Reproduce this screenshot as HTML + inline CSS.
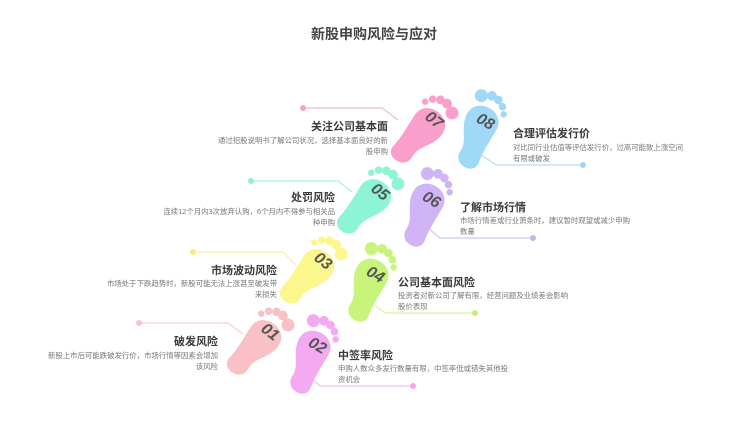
<!DOCTYPE html>
<html><head><meta charset="utf-8"><style>
html,body{margin:0;padding:0;background:#fff;}
svg{display:block;font-family:"Liberation Sans","Noto Sans CJK SC",sans-serif;}
.t{font-size:11px;font-weight:bold;fill:#3a3a3a;}
.d{font-size:7.4px;fill:#777;}
.n{font-size:16px;font-weight:bold;font-style:italic;fill:#555;}
</style></head><body>
<svg width="748" height="433" viewBox="0 0 748 433">
<defs>
<g id="fr">
<path d="M-15,-8 C-17,-28 17,-30 16,-8 C15,6 5,12 7,24 C9,38 -14,40 -13,26 C-12,14 -14,4 -15,-8 Z"/>
<circle cx="11" cy="-31" r="6"/>
<circle cx="2" cy="-35" r="4.5"/>
<circle cx="-5" cy="-34" r="4"/>
<circle cx="-11" cy="-30" r="3.5"/>
<circle cx="-15" cy="-24" r="3"/>
</g>
<g id="fl">
<path d="M15,-8 C17,-28 -17,-30 -16,-8 C-15,6 -5,12 -7,24 C-9,38 14,40 13,26 C12,14 14,4 15,-8 Z"/>
<circle cx="-11" cy="-31" r="6"/>
<circle cx="-2" cy="-35" r="4.5"/>
<circle cx="5" cy="-34" r="4"/>
<circle cx="11" cy="-30" r="3.5"/>
<circle cx="15" cy="-24" r="3"/>
</g>
</defs>
<text x="374" y="39" text-anchor="middle" style="font-size:14px;font-weight:bold;fill:#444">新股申购风险与应对</text>

<g fill="none" stroke-width="1.2">
<path d="M303,108 H382 L398,120" stroke="#f7b8d6"/>
<path d="M251,181 H338 L352,192" stroke="#a8f3dd"/>
<path d="M193,252 H283 L296,265" stroke="#f6f2a0"/>
<path d="M139,323 H228 L243,334" stroke="#f8d0d4"/>
<path d="M480,154 L496,165 H583" stroke="#b7def7"/>
<path d="M428,228 L440,238 H533" stroke="#d6c3f5"/>
<path d="M370,302 L385,313 H475" stroke="#d5f59f"/>
<path d="M308,375 L320,386 H413" stroke="#f3bdf0"/>
</g>
<circle cx="303" cy="108" r="3" fill="#f5a3c8"/>
<circle cx="251" cy="181" r="3" fill="#8ff0d2"/>
<circle cx="193" cy="252" r="3" fill="#f2ec80"/>
<circle cx="139" cy="323" r="3" fill="#f8c2c8"/>
<circle cx="583" cy="165" r="3" fill="#a4d4f5"/>
<circle cx="533" cy="238" r="3" fill="#c9b2f3"/>
<circle cx="475" cy="313" r="3" fill="#c5f07a"/>
<circle cx="413" cy="386" r="3" fill="#f2a6ee"/>

<g transform="translate(422,132) rotate(38) scale(1.08)" fill="#fa9fcb"><use href="#fr"/></g>
<g transform="translate(478,131) rotate(25) scale(1.08)" fill="#a0d8f8"><use href="#fl"/></g>
<g transform="translate(368,203) rotate(38) scale(1.08)" fill="#8ef4d6"><use href="#fr"/></g>
<g transform="translate(424,209) rotate(25) scale(1.08)" fill="#d0b5f6"><use href="#fl"/></g>
<g transform="translate(311,273) rotate(38) scale(1.08)" fill="#fbf78c"><use href="#fr"/></g>
<g transform="translate(368,284) rotate(25) scale(1.08)" fill="#c8f47c"><use href="#fl"/></g>
<g transform="translate(258,344) rotate(38) scale(1.08)" fill="#f9c0c5"><use href="#fr"/></g>
<g transform="translate(310,356) rotate(25) scale(1.08)" fill="#f4aaf0"><use href="#fl"/></g>

<text class="n" transform="translate(431,124) rotate(38)" text-anchor="middle">07</text>
<text class="n" transform="translate(483,126) rotate(30)" text-anchor="middle">08</text>
<text class="n" transform="translate(377,196) rotate(38)" text-anchor="middle">05</text>
<text class="n" transform="translate(429,204) rotate(30)" text-anchor="middle">06</text>
<text class="n" transform="translate(320,265) rotate(38)" text-anchor="middle">03</text>
<text class="n" transform="translate(373,279) rotate(30)" text-anchor="middle">04</text>
<text class="n" transform="translate(267,336) rotate(38)" text-anchor="middle">01</text>
<text class="n" transform="translate(315,350) rotate(30)" text-anchor="middle">02</text>

<text class="t" x="388" y="130" text-anchor="end">关注公司基本面</text>
<text class="d" x="388" y="143" text-anchor="end">通过招股说明书了解公司状况，选择基本面良好的新</text>
<text class="d" x="388" y="154" text-anchor="end">股申购</text>

<text class="t" x="335" y="201" text-anchor="end">处罚风险</text>
<text class="d" x="335" y="214" text-anchor="end">连续12个月内3次放弃认购，6个月内不得参与相关品</text>
<text class="d" x="335" y="225" text-anchor="end">种申购</text>

<text class="t" x="277" y="274" text-anchor="end">市场波动风险</text>
<text class="d" x="277" y="286" text-anchor="end">市场处于下跌趋势时，新股可能无法上涨甚至破发带</text>
<text class="d" x="277" y="297" text-anchor="end">来损失</text>

<text class="t" x="218" y="345" text-anchor="end">破发风险</text>
<text class="d" x="218" y="358" text-anchor="end">新股上市后可能跌破发行价，市场行情等因素会增加</text>
<text class="d" x="218" y="369" text-anchor="end">该风险</text>

<text class="t" x="513" y="137">合理评估发行价</text>
<text class="d" x="513" y="150">对比同行业估值等评估发行价，过高可能致上涨空间</text>
<text class="d" x="513" y="161">有限或破发</text>

<text class="t" x="460" y="211">了解市场行情</text>
<text class="d" x="460" y="223">市场行情差或行业萧条时，建议暂时观望或减少申购</text>
<text class="d" x="460" y="234">数量</text>

<text class="t" x="398" y="286">公司基本面风险</text>
<text class="d" x="398" y="298">投资者对新公司了解有限，经营问题及业绩差会影响</text>
<text class="d" x="398" y="309">股价表现</text>

<text class="t" x="338" y="359">中签率风险</text>
<text class="d" x="338" y="371">申购人数众多发行数量有限，中签率低或错失其他投</text>
<text class="d" x="338" y="382">资机会</text>
</svg>
</body></html>
